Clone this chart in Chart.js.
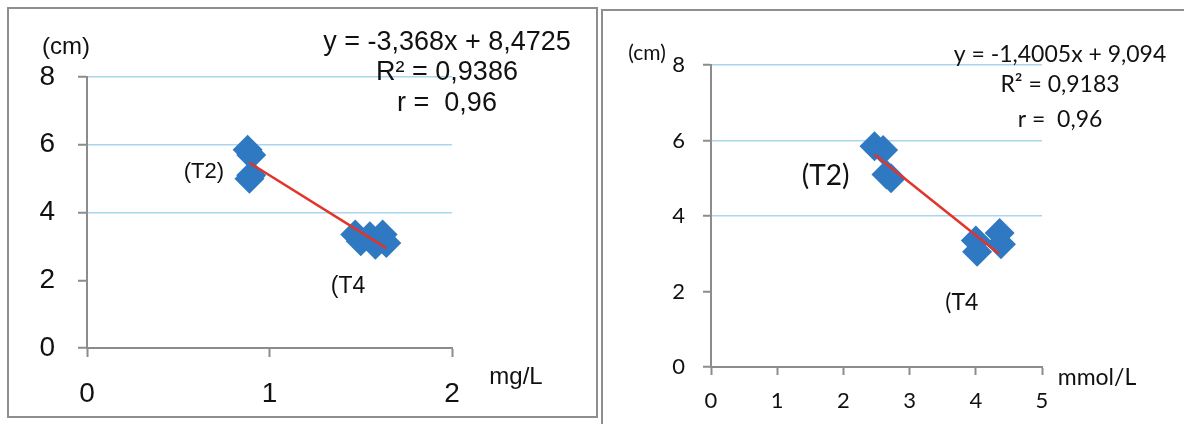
<!DOCTYPE html>
<html>
<head>
<meta charset="utf-8">
<script src="https://cdn.jsdelivr.net/npm/chart.js@4.4.0/dist/chart.umd.min.js"></script>
<style>
  body { margin: 0; background: #fff; width: 1184px; height: 424px; position: relative; overflow: hidden; }
  .marco { position: absolute; border: 2px solid #8e8e8e; box-sizing: border-box; }
  #marco-mg { left: 7px; top: 7px; width: 591px; height: 411px; }
  #marco-mmol { left: 601px; top: 9px; width: 600px; height: 430px; }
  canvas { position: absolute; display: block; }
  #grafico-mg { left: 9px; top: 9px; }
  #grafico-mmol { left: 603px; top: 11px; }
</style>
</head>
<body>
<div class="marco" id="marco-mg"></div>
<div class="marco" id="marco-mmol"></div>
<canvas id="grafico-mg" width="587" height="407"></canvas>
<canvas id="grafico-mmol" width="581" height="413"></canvas>
<script>
// panel izquierdo (mg/L)
const mgT2X = [0.88, 0.90, 0.89, 0.90];
const mgT2Y = [5.85, 5.70, 5.00, 5.10];
const mgT4X = [1.47, 1.50, 1.55, 1.58, 1.62, 1.64];
const mgT4Y = [3.35, 3.15, 3.30, 3.05, 3.35, 3.10];
const mgTendX = [0.89, 1.64];
const mgTendY = [5.47, 2.95];
const mgEcuacion = ['y = -3,368x + 8,4725', 'R² = 0,9386', 'r =  0,96'];
const mgTicksX = [0, 1, 2];

// panel derecho (mmol/L)
const mmolT2X = [2.47, 2.60, 2.65, 2.72];
const mmolT2Y = [5.85, 5.75, 5.10, 5.00];
const mmolT4X = [4.00, 4.02, 4.36, 4.38];
const mmolT4Y = [3.35, 3.05, 3.55, 3.25];
const mmolTendX = [2.47, 4.35];
const mmolTendY = [5.63, 3.00];
const mmolEcuacion = ['y = -1,4005x + 9,094', 'R² = 0,9183', 'r =  0,96'];
const mmolTicksX = [0, 1, 2, 3, 4, 5];

const ticksY = [0, 2, 4, 6, 8];

const AZUL = '#2f78c2';
const ROJO = '#e3342b';
const GRIS = '#8c8c8c';
const CELESTE = '#a9d5ee';
const TEXTO = '#111';

const puntos = (xs, ys) => xs.map((x, i) => ({ x: x, y: ys[i] }));

const textosPlugin = {
  id: 'textos',
  afterDraw(chart, args, opts) {
    const ctx = chart.ctx;
    const sx = chart.scales.x;
    const sy = chart.scales.y;
    opts.items.forEach(t => {
      ctx.save();
      ctx.font = t.font;
      ctx.fillStyle = TEXTO;
      ctx.textAlign = 'center';
      ctx.textBaseline = 'middle';
      const px = t.dato ? sx.getPixelForValue(t.dato[0]) : t.px;
      const py = t.dato ? sy.getPixelForValue(t.dato[1]) : t.py;
      ctx.fillText(t.texto, px, py);
      ctx.restore();
    });
  }
};

function crearGrafico(id, cfg) {
  const ctx = document.getElementById(id).getContext('2d');
  return new Chart(ctx, {
    type: 'scatter',
    data: {
      datasets: [
        {
          label: 'T2',
          data: puntos(cfg.t2x, cfg.t2y),
          pointStyle: 'rectRot',
          pointRadius: cfg.radio,
          backgroundColor: AZUL,
          borderWidth: 0,
          order: 1
        },
        {
          label: 'T4',
          data: puntos(cfg.t4x, cfg.t4y),
          pointStyle: 'rectRot',
          pointRadius: cfg.radio,
          backgroundColor: AZUL,
          borderWidth: 0,
          order: 1
        },
        {
          label: 'Tendencia',
          data: puntos(cfg.tendX, cfg.tendY),
          showLine: true,
          pointRadius: 0,
          borderColor: ROJO,
          borderWidth: 2.5,
          order: 0
        }
      ]
    },
    options: {
      responsive: false,
      animation: false,
      layout: { padding: { left: 0, top: cfg.arriba, right: cfg.derecha, bottom: 0 } },
      plugins: {
        legend: { display: false },
        tooltip: { enabled: false },
        textos: { items: cfg.textos }
      },
      scales: {
        x: {
          type: 'linear',
          min: cfg.ticksX[0],
          max: cfg.ticksX[cfg.ticksX.length - 1],
          afterBuildTicks: s => { s.ticks = cfg.ticksX.map(v => ({ value: v })); },
          afterFit: s => { s.height = cfg.altoX; },
          border: { display: true, color: GRIS, width: 2 },
          grid: { drawOnChartArea: false, drawTicks: true, tickLength: cfg.tickLen, tickColor: GRIS, tickWidth: 2 },
          ticks: { color: TEXTO, font: cfg.fuenteTicks, padding: cfg.padX, maxRotation: 0 }
        },
        y: {
          min: 0,
          max: 8,
          afterBuildTicks: s => { s.ticks = ticksY.map(v => ({ value: v })); },
          afterFit: s => { s.width = cfg.anchoY; },
          border: { display: true, color: GRIS, width: 2 },
          grid: {
            color: c => (c.tick && c.tick.value >= 4 ? CELESTE : 'rgba(0,0,0,0)'),
            lineWidth: 1.5,
            tickLength: cfg.tickLen,
            tickColor: GRIS,
            tickWidth: 2
          },
          ticks: { color: TEXTO, font: cfg.fuenteTicks, padding: cfg.padY }
        }
      }
    },
    plugins: [textosPlugin]
  });
}

const ARIAL = '"Liberation Sans", Arial, sans-serif';
const CALIBRI = 'Lato, "Open Sans", sans-serif';

crearGrafico('grafico-mg', {
  t2x: mgT2X, t2y: mgT2Y, t4x: mgT4X, t4y: mgT4Y, tendX: mgTendX, tendY: mgTendY,
  ticksX: mgTicksX,
  radio: 15,
  arriba: 68, derecha: 144, anchoY: 78, altoX: 68,
  tickLen: 9, padX: 20, padY: 23,
  fuenteTicks: { family: ARIAL, size: 28 },
  textos: [
    { texto: '(cm)', px: 66 - 9, py: 38, font: '24px ' + ARIAL },
    { texto: mgEcuacion[0], px: 438, py: 34, font: '27px ' + ARIAL },
    { texto: mgEcuacion[1], px: 438, py: 64, font: '27px ' + ARIAL },
    { texto: mgEcuacion[2], px: 438, py: 95, font: '27px ' + ARIAL },
    { texto: 'mg/L', px: 507, py: 368, font: '24px ' + ARIAL },
    { texto: '(T2)', dato: [0.64, 5.19], font: '22px ' + ARIAL },
    { texto: '(T4', dato: [1.43, 1.8], font: '23px ' + ARIAL }
  ]
});

crearGrafico('grafico-mmol', {
  t2x: mmolT2X, t2y: mmolT2Y, t4x: mmolT4X, t4y: mmolT4Y, tendX: mmolTendX, tendY: mmolTendY,
  ticksX: mmolTicksX,
  radio: 15,
  arriba: 54, derecha: 142, anchoY: 108, altoX: 57,
  tickLen: 8, padX: 13, padY: 18,
  fuenteTicks: { family: CALIBRI, size: 22 },
  textos: [
    { texto: '(cm)', px: 44, py: 42, font: '21px ' + CALIBRI },
    { texto: mmolEcuacion[0], px: 457, py: 44, font: '23px ' + CALIBRI },
    { texto: mmolEcuacion[1], px: 457, py: 74, font: '23px ' + CALIBRI },
    { texto: mmolEcuacion[2], px: 457, py: 109, font: '23px ' + CALIBRI },
    { texto: 'mmol/L', px: 494, py: 367, font: '23px ' + CALIBRI },
    { texto: '(T2)', dato: [1.73, 5.07], font: '28px ' + CALIBRI },
    { texto: '(T4', dato: [3.79, 1.71], font: '23px ' + CALIBRI }
  ]
});
</script>
</body>
</html>
